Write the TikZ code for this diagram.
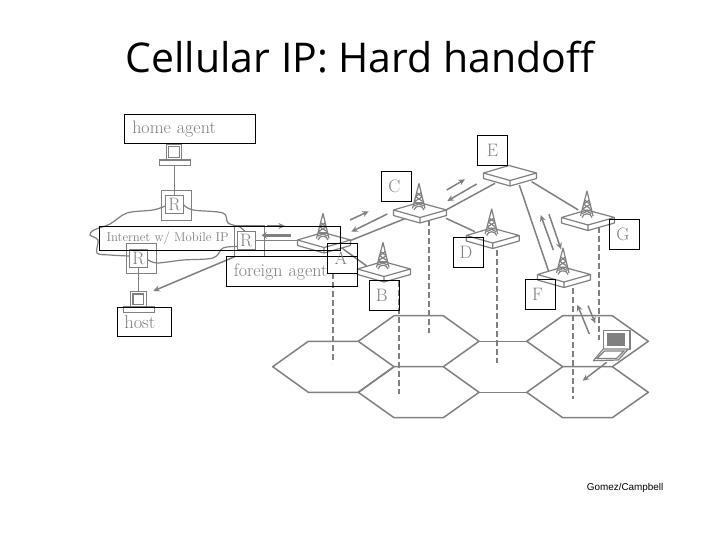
\documentclass[tikz,border=0pt]{standalone}
\usepackage{fontspec}
\usetikzlibrary{arrows.meta}
\newfontfamily\titlefont{Open Sans}
\newfontfamily\creditfont{Liberation Sans}
\definecolor{gy}{gray}{0.5}
\tikzset{
  x=1pt,y=-1pt,
  link/.style={draw=gy,line width=1.5pt},
  thin link/.style={draw=gy,line width=1.2pt},
  dash line/.style={draw=gy,line width=1.8pt,dash pattern=on 6pt off 3pt},
  hexa/.style={draw=gy,line width=1.5pt,line join=round},
  arr/.style={draw=gy,line width=1.5pt,-{Stealth[length=6.5pt,width=6pt]}},
  wbox/.style={draw=black,line width=1pt,text=gy,font=\fontsize{18}{20}\selectfont,inner sep=0pt,minimum width=30pt,minimum height=30pt},
  widebox/.style={draw=black,line width=1pt,text=gy,inner sep=0pt,align=left},
  routerbox/.style={draw=gy,line width=1pt,minimum width=30pt,minimum height=30pt,inner sep=0pt},
  routerin/.style={draw=gy,line width=1.2pt,fill=white,text=gy,font=\fontsize{18}{20}\selectfont,minimum width=18pt,minimum height=18pt,inner sep=0pt},
  apoint/.pic={
    \fill[white] (-26.5,0) -- (-1,-7.5) -- (26.5,0) -- (26.5,5.5) -- (0,13) -- (-26.5,5.5) -- cycle;
    \draw[thin link,line join=round] (-26.5,0) -- (-1,-7.5) -- (26.5,0) -- (0,7.5) -- cycle
      (-26.5,0) -- (-26.5,5.5) -- (0,13) -- (26.5,5.5) -- (26.5,0) (0,7.5) -- (0,13);
  },
  tower/.pic={
    \draw[thin link,line join=round] (-7.5,-1.5) -- (-1,-26.5) -- (5,-1.5)
      (-2.6,-17) -- (1,-14) (0.8,-17) -- (-3.6,-14) (-3.8,-13) -- (2,-9) (1.8,-13) -- (-4.6,-9)
      (-4.8,-8) -- (3.2,-4) (3,-8) -- (-5.8,-4);
    \draw[thin link] (-6,0) .. controls (-5,-5) and (3,-5) .. (4,0);
  },
}
\newcommand{\compbox}[3]{%
  \draw[thin link,fill=white] (#1,#2) rectangle ++(15.4,15.7);
  \draw[thin link] (#1+2.2,#2+2.6) rectangle ++(10.8,10.6);
  \draw[thin link,fill=white] (#1+#3,#2+15.7) rectangle ++(31,5.4);
}
\newcommand{\leftby}[2]{\hspace*{-#1pt}#2\hspace*{#1pt}\hspace*{-0pt}}
\begin{document}
\begin{tikzpicture}
\useasboundingbox (0,0) rectangle (720,540);
\fill[white] (0,0) rectangle (720,540);

% anchors
\coordinate (apA) at (324,240);
\coordinate (apB) at (384,269);
\coordinate (apC) at (420,210);
\coordinate (apD) at (492.7,235.5);
\coordinate (apE) at (510,173);
\coordinate (apF) at (564,274.5);
\coordinate (apG) at (588,217.5);

% cells
\draw[hexa] (272.7,366.7) -- (308.3,341.3) -- (358.3,341.3) -- (394,366.7) -- (358.3,392.3) -- (308.3,392.3) -- cycle;
\draw[hexa] (358.3,341.3) -- (394,315.7) -- (443.3,315.7) -- (479,341.3) -- (443.3,366.7) -- (394,366.7);
\draw[hexa] (358.3,392.3) -- (394,366.7) (443.3,366.7) -- (479,392.3) -- (443.3,417.7) -- (394,417.7) -- (358.3,392.3);
\draw[hexa] (526.7,341.3) -- (562.7,315.7) -- (612.3,315.7) -- (648.3,341.3) -- (612.3,366.7) -- (562.7,366.7) -- cycle;
\draw[hexa] (526.7,392.3) -- (562.7,366.7) (612.3,366.7) -- (648.3,392.3) -- (612.3,417.7) -- (562.7,417.7) -- (526.7,392.3);
\draw[hexa] (479,341.3) -- (526.7,341.3) (479,392.3) -- (526.7,392.3);

% vertical projections
\draw[dash line] (apA) ++(9,33) -- ++(0,90);
\draw[dash line] (apB) ++(15,12) -- ++(0,113);
\draw[dash line] (apC) ++(9,10) -- ++(0,113);
\draw[dash line] (apD) ++(4.3,14) -- ++(0,113);
\draw[dash line] (apF) ++(9,13.5) -- ++(0,111);
\draw[dash line] (apG) ++(11,9) -- ++(0,113.5);

% wired links
\draw[link] ([shift={(26,0.7)}]apA) -- ([shift={(-11.7,7.3)}]apC);
\draw[link] ([shift={(16,6.7)}]apA) -- ([shift={(-17.3,-3)}]apB);
\draw[link] ([shift={(26,0)}]apC) -- ([shift={(-15,10.3)}]apE);
\draw[link] ([shift={(26,8.3)}]apC) -- ([shift={(-17.7,-3.8)}]apD);
\draw[link] ([shift={(21.7,8.7)}]apE) -- ([shift={(-9.7,-7.5)}]apG);
\draw[link] ([shift={(9.3,12)}]apE) -- ([shift={(-14.7,-1.2)}]apF);

% wireless and data arrows
\draw[arr] (446.7,190) -- (465,179.3);
\draw[arr] (476.7,184) -- (447.3,201);
\draw[arr] (350,220) -- (368.7,211.3);
\draw[arr] (387.3,214) -- (351.3,231.7);
\draw[arr] (553.3,250) -- (540.7,215);
\draw[arr] (549,214.3) -- (561,249.3);
\draw[arr] (589.3,334) -- (577.3,304.7);
\draw[arr] (588,305.7) -- (595.3,323.3);
\draw[arr] (606.7,362.3) -- (582.7,380.7);
\draw[arr,line width=1.2pt] (266.7,226) -- (285,226);
\draw[arr,line width=2.4pt,-{Stealth[length=5pt,width=7pt]}] (290.7,235.3) -- (261.7,235.3);
\draw[arr] (234.7,256.7) -- (153.3,291);

% base stations
\foreach \n in {apA,apB,apC,apD,apE,apF,apG} {\pic at (\n) {apoint};}
\foreach \n in {apA,apB,apC,apD,apF,apG} {\pic at (\n) {tower};}

% mobile host
\draw[thin link,fill=white,line join=round] (603.3,330.7) -- (630,330.7) -- (630,349.5) -- (603.3,349.5) -- cycle;
\fill[gy] (606.7,333.3) rectangle (624.7,345.7);
\draw[thin link,fill=white,line join=round] (593.3,360.7) -- (603.3,349) -- (628.3,349) -- (618.3,360) -- cycle;
\draw[thin link] (597,358.5) -- (604.5,351) -- (624,351) -- (616.5,358.5) -- cycle;

% routers
\node[routerbox] (Rhbox) at (176.3,205.3) {};
\node[routerbox] (Rlbox) at (141.7,258.3) {};
\node[routerbox] (Rfbox) at (249.7,241) {};

% cloud
\draw[thin link] plot[smooth,tension=0.55] coordinates {(165.3,206) (153,210) (127,213) (110,224) (94,230) (90,235) (98,240) (97,253) (110,255) (129,256)};
\draw[thin link] plot[smooth,tension=0.55] coordinates {(147.7,259.5) (157,263) (183,260) (213,258) (223,248) (237.3,246.5)};
\draw[thin link] plot[smooth,tension=0.55] coordinates {(183.7,205) (193,210) (223,213) (228,223) (240,227) (245,231.7)};

\node[routerin] (Rh) at (174.5,204.3) {R};
\node[routerin] (Rl) at (138.5,258.3) {R};
\node[routerin] (Rf) at (246.3,240.7) {R};

% hosts
\compbox{166.3}{144.3}{-7}
\compbox{130.7}{291.3}{-7.4}
\coordinate (compH) at (174.5,165.3);
\coordinate (compL) at (138.5,291.3);
\draw[thin link] (compH) -- (Rh);
\draw[thin link] (Rl) -- (compL);
\draw[link] (Rf) -- ([shift={(-26,0.7)}]apA);

% black label boxes
\node[widebox,minimum width=131pt,minimum height=29pt,text width=123pt,anchor=north west,font=\fontsize{18}{20}\selectfont] (home) at (124.3,114.3) {\hspace*{3.5pt}home agent};
\node[widebox,minimum width=54pt,minimum height=29.6pt,text width=46pt,anchor=north west,font=\fontsize{18.5}{20}\selectfont] (hostl) at (117.3,306.7) {\hspace*{2.5pt}host};
\node[widebox,minimum width=240.4pt,minimum height=24.6pt,text width=234pt,anchor=north west,font=\fontsize{12.8}{14}\selectfont] (inet) at (99.3,225.7) {\hspace*{3.5pt}Internet w/ Mobile IP};
\node[widebox,minimum width=131pt,minimum height=29.7pt,text width=123pt,anchor=north west,font=\fontsize{18}{20}\selectfont] (fa) at (226.3,256.3) {\hspace*{3pt}\raisebox{-1.5pt}{foreign agent}};
\node[wbox] (lA) at (342.3,258.3) {\raisebox{-1.5pt}{\makebox[0pt]{\hspace*{-3pt}A}}};
\node[wbox] (lB) at (384.3,295.3) {\makebox[0pt]{\hspace*{-5pt}B}};
\node[wbox] (lC) at (396.5,186.3) {\makebox[0pt]{\hspace*{-4pt}C}};
\node[wbox] (lD) at (468.5,252.3) {\makebox[0pt]{\hspace*{-5pt}D}};
\node[wbox] (lE) at (492.5,150.3) {E};
\node[wbox] (lF) at (540.5,294.3) {\makebox[0pt]{\hspace*{-6pt}F}};
\node[wbox] (lG) at (624.3,234.3) {\makebox[0pt]{\hspace*{-3pt}G}};

% texts
\node[inner sep=0pt] (title) at (360,57) {\titlefont\fontsize{41}{45}\selectfont Cellular IP: Hard handoff};
\node[inner sep=0pt,anchor=west] (credit) at (586.7,488) {\creditfont\fontsize{9.9}{12}\selectfont Gomez/Campbell};
\end{tikzpicture}
\end{document}
